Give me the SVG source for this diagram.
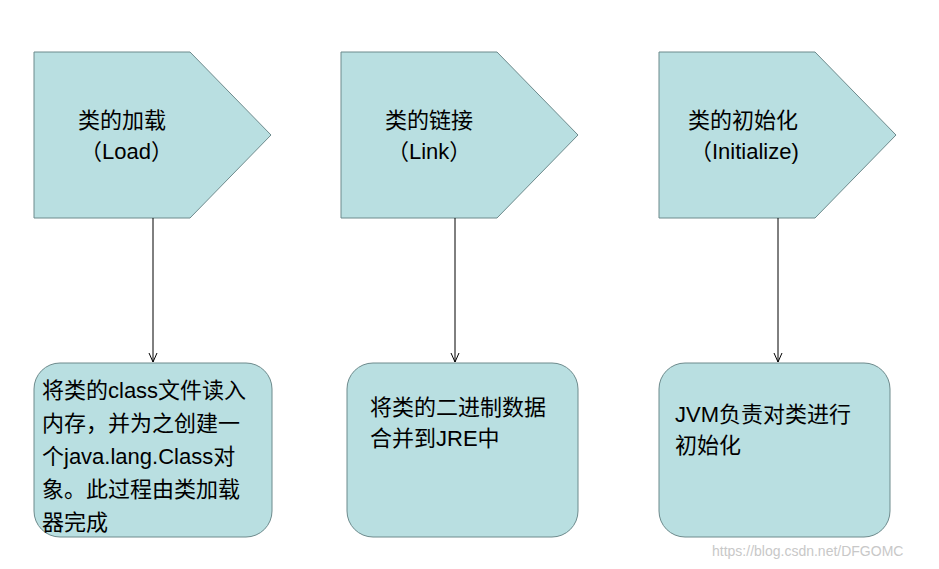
<svg xmlns="http://www.w3.org/2000/svg" width="939" height="569" viewBox="0 0 939 569">
<style>
.s{fill:#b9dfe1;stroke:#6d8a8c;stroke-width:1}
.t{font-family:"Liberation Sans","Noto Sans CJK SC",sans-serif;font-size:22px;fill:#000}
.c{stroke:#000;stroke-width:1;fill:none}
</style>
<defs><marker id="a" markerWidth="10" markerHeight="10" refX="9" refY="5" orient="auto" markerUnits="userSpaceOnUse"><path d="M0,1 L9,5 L0,9" fill="none" stroke="#000"/></marker></defs>
<rect width="939" height="569" fill="#fff"/>
<g id="load"><path class="s" d="M34,52 H190 L271,135 L190,218 H34 Z"/><text class="t" x="78" y="128">类的加载</text><text class="t" x="80" y="159">（Load）</text></g>
<g id="link"><path class="s" d="M341,52 H497 L578,135 L497,218 H341 Z"/><text class="t" x="385" y="128">类的链接</text><text class="t" x="387" y="159">（Link）</text></g>
<g id="init"><path class="s" d="M659,52 H815 L896,135 L815,218 H659 Z"/><text class="t" x="688" y="128">类的初始化</text><text class="t" x="690" y="159">（Initialize)</text></g>
<g id="box1"><rect class="s" x="34" y="363" width="238" height="174" rx="26"/><text class="t" x="42" y="398">将类的class文件读入</text><text class="t" x="42" y="431">内存，并为之创建一</text><text class="t" x="42" y="464">个java.lang.Class对</text><text class="t" x="42" y="497">象。此过程由类加载</text><text class="t" x="42" y="530">器完成</text></g>
<g id="box2"><rect class="s" x="347" y="363" width="231" height="174" rx="26"/><text class="t" x="370" y="415">将类的二进制数据</text><text class="t" x="370" y="446">合并到JRE中</text></g>
<g id="box3"><rect class="s" x="659" y="363" width="231" height="174" rx="26"/><text class="t" x="675" y="422">JVM负责对类进行</text><text class="t" x="675" y="453">初始化</text></g>
<g id="connectors"><line class="c" x1="153" y1="218" x2="153" y2="362" marker-end="url(#a)"/><line class="c" x1="455" y1="218" x2="455" y2="362" marker-end="url(#a)"/><line class="c" x1="778" y1="218" x2="778" y2="362" marker-end="url(#a)"/></g>
<text x="712" y="556" style="font-family:'Liberation Sans',sans-serif;font-size:14px;fill:#c8c8c8">https://blog.csdn.net/DFGOMC</text>
</svg>
